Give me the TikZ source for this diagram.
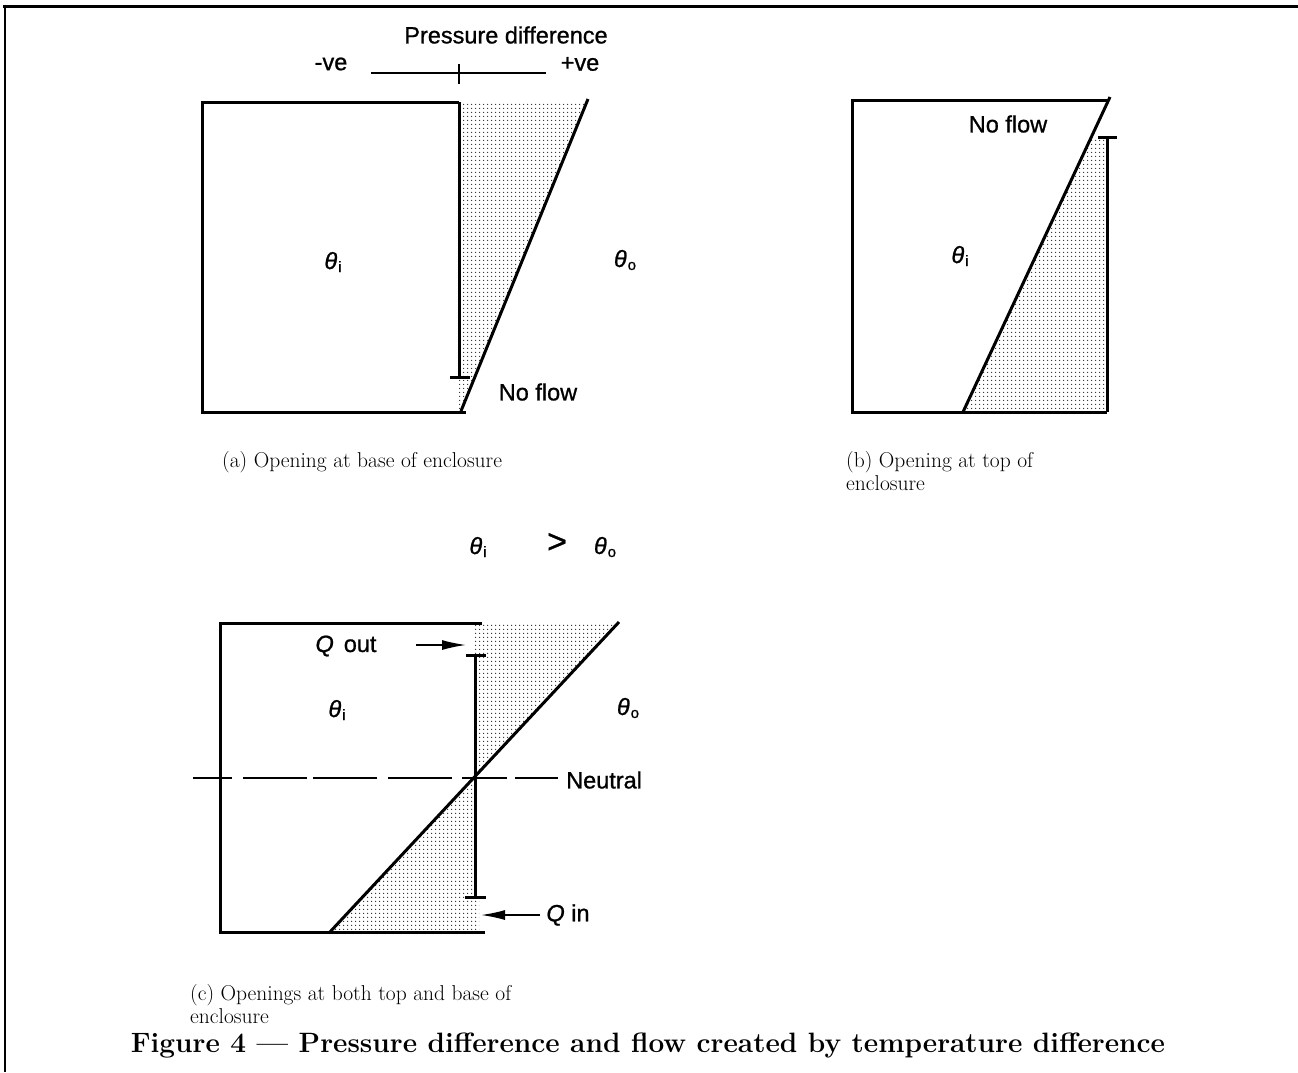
\documentclass[tikz,border=0pt]{standalone}
\usepackage{fontspec}
\setsansfont{Liberation Sans}
\newfontfamily\lblfont{Liberation Sans}[FakeBold=0.9]
\usetikzlibrary{patterns.meta,arrows.meta}
\newcommand\thsub[1]{{\itshape θ}\kern1pt\raisebox{-3pt}{\fontsize{15}{15}\selectfont #1}}
\begin{document}
\begin{tikzpicture}[x=1pt,y=-1pt,
  wall/.style={line width=3pt,line cap=butt},
  thinline/.style={line width=1.2pt},
  shadefill/.style={pattern={Dots[distance=4pt,radius=0.8pt]},pattern color=black!85},
  lbl/.style={font=\lblfont\fontsize{23.5}{26}\selectfont,inner sep=1pt},
  captxt/.style={font=\rmfamily\fontsize{21.5}{23}\selectfont,align=left,anchor=west,inner sep=0pt},
  flowarrow/.style={line width=1.5pt,-{Latex[length=24pt,width=10pt]}}]
\useasboundingbox (0,0) rectangle (1298,1072);
% frame
\draw[line width=3pt] (3,6) -- (1298,6);
\draw[line width=2pt] (5,6) -- (5,1072);

% ---------- (a) ----------
\fill[shadefill] (459,102) -- (586,102) -- (461,410) -- (459,410) -- cycle;
\draw[wall] (459,102) -- (202,102) -- (202,412) -- (466,412);
\draw[wall] (459,102) -- (459,377);
\draw[wall] (450,377) -- (470,377);
\draw[wall] (588,99) -- (461,411);
% pressure axis
\draw[thinline] (371,73) -- (546,73);
\draw[thinline] (459,64) -- (459,84);
\node[lbl] (pd) at (506,35) {Pressure difference};
\node[lbl] (neg) at (331,64) {-ve};
\node[lbl] (pos) at (580,64) {+ve};
\node[lbl] (ai) at (333,262) {\thsub{i}};
\node[lbl] (ao) at (625,260) {\thsub{o}};
\node[lbl] (anf) at (538,392) {No flow};
\node[captxt] (acap) at (222,462) {(a) Opening at base of enclosure};

% ---------- (b) ----------
\fill[shadefill] (963,412) -- (1107,412) -- (1107,137) -- (1091,137) -- cycle;
\draw[wall] (1107,412) -- (852,412) -- (852,100) -- (1108,100);
\draw[wall] (1107,137) -- (1107,412);
\draw[wall] (1098,137) -- (1117,137);
\draw[wall] (963,412) -- (1110,97);
\node[lbl] (bnf) at (1008,124) {No flow};
\node[lbl] (bi) at (960,256) {\thsub{i}};
\node[captxt] (bcap) at (846,471) {(b) Opening at top of\\enclosure};

% ---------- middle ----------
\node[lbl] (mi) at (478,547) {\thsub{i}};
\node[lbl,font=\lblfont\fontsize{34}{34}\selectfont] (mgt) at (557,543) {>};
\node[lbl] (mo) at (605,547) {\thsub{o}};

% ---------- (c) ----------
\fill[shadefill] (474,623) -- (618,623) -- (474,778) -- cycle;
\fill[shadefill] (330,932) -- (474,778) -- (474,897) -- (479,897) -- (479,932) -- cycle;
\draw[wall] (482,623) -- (220,623) -- (220,932) -- (485,932);
\draw[wall] (475,655) -- (475,897);
\draw[wall] (466,655) -- (486,655);
\draw[wall] (465,897) -- (486,897);
\draw[wall] (619,622) -- (329,933);
\draw[line width=1.5pt,dash pattern=on 39pt off 11pt on 64pt off 6pt on 64pt off 11pt on 64pt off 10pt on 45pt off 8pt on 43pt off 20pt] (193,778) -- (558,778);
\node[lbl,anchor=west] (neu) at (565,780) {Neutral};
\node[lbl] (qout) at (346,646) {{\itshape Q}\hspace{10pt}out};
\coordinate (qos) at (416,645);
\coordinate (qoe) at (466,645);
\draw[flowarrow] (qos) -- (qoe);
\node[lbl] (qin) at (568,915) {{\itshape Q} in};
\coordinate (qis) at (540,915);
\coordinate (qie) at (481,915);
\draw[flowarrow] (qis) -- (qie);
\node[lbl] (ci) at (337,710) {\thsub{i}};
\node[lbl] (co) at (628,708) {\thsub{o}};
\node[captxt] (ccap) at (190,1004) {(c) Openings at both top and base of\\enclosure};

% ---------- title ----------
\node[font=\rmfamily\bfseries\fontsize{28}{30}\selectfont,inner sep=0pt] (title) at (648,1045)
  {Figure 4 — Pressure difference and flow created by temperature difference};
\end{tikzpicture}
\end{document}
